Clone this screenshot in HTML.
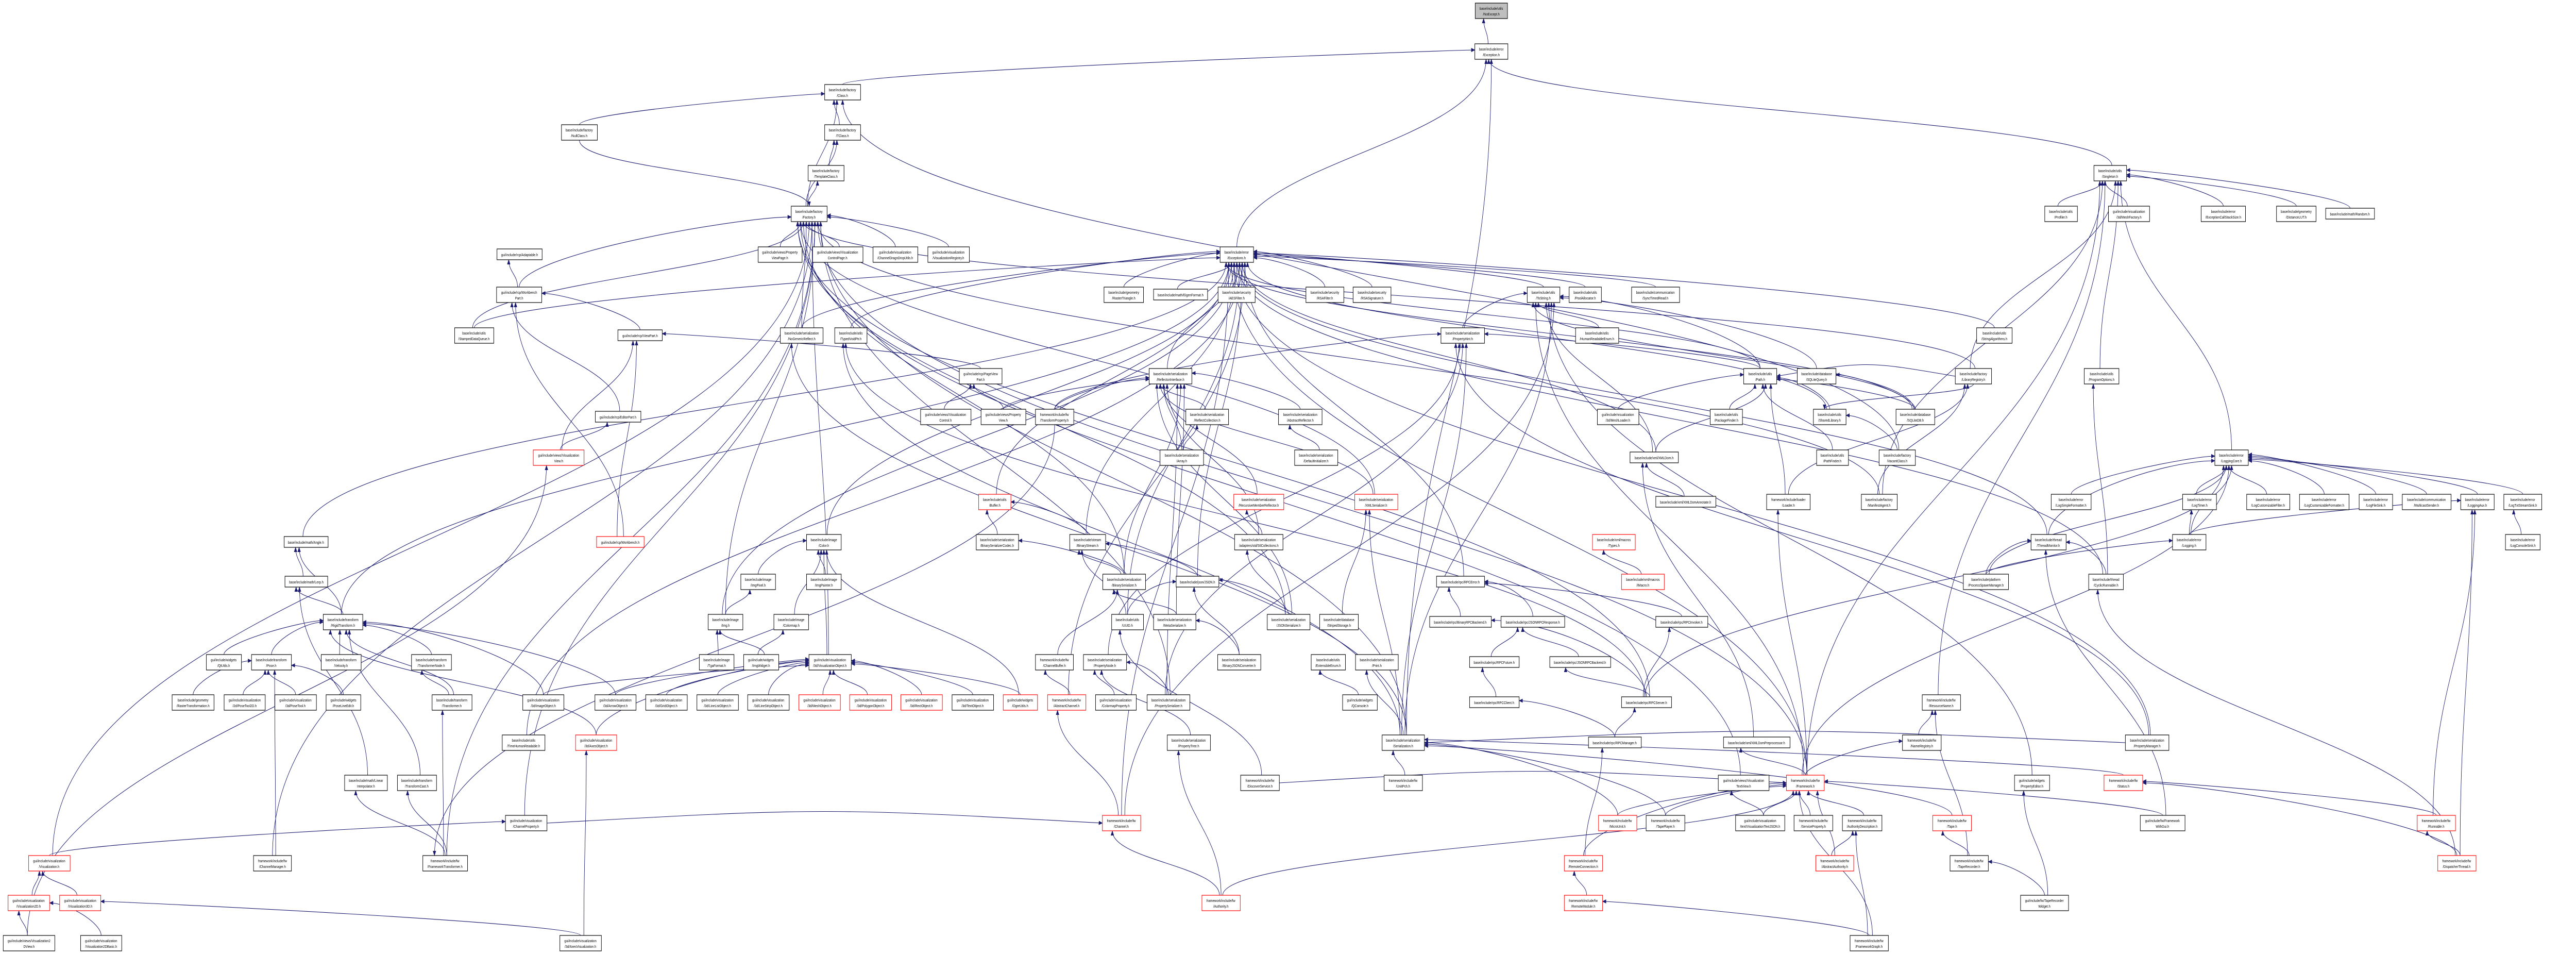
<!DOCTYPE html>
<html><head><meta charset="utf-8">
<style>
html,body{margin:0;padding:0;background:#fff;width:100%;height:100%;overflow:hidden;}
svg{display:block;width:100vw;height:100vh;}
rect{fill:#fff;stroke:#000;stroke-width:1.2;}
rect.r{stroke:#f00;}
rect.g{fill:#bfbfbf;}
text{font-family:"Liberation Sans",sans-serif;font-size:7.6px;text-anchor:middle;fill:#000;}
path.e{fill:none;stroke:#191970;stroke-width:1.1;}
</style></head>
<body>
<svg id="s" viewBox="0 0 6391 1851" preserveAspectRatio="none" xmlns="http://www.w3.org/2000/svg">
<defs><marker id="ah" markerWidth="10" markerHeight="8" refX="9" refY="4" orient="auto" markerUnits="userSpaceOnUse"><path d="M0,0 L10,4 L0,8 Z" fill="#191970"/></marker></defs>
<g id="edges"></g>
<g id="nodes">
<g id="nx"><rect class="g" x="3660" y="6" width="80" height="30"/><text x="3700" y="19">base/include/utils</text><text x="3700" y="30">/NoExcept.h</text></g>
<g id="ex"><rect x="3659" y="85" width="82" height="30"/><text x="3700" y="98">base/include/error</text><text x="3700" y="109">/Exception.h</text></g>
<g id="cls"><rect x="2046" y="164" width="89" height="30"/><text x="2090" y="177">base/include/factory</text><text x="2090" y="188">/Class.h</text></g>
<g id="tcls"><rect x="2046" y="242" width="89" height="30"/><text x="2090" y="255">base/include/factory</text><text x="2090" y="266">/TClass.h</text></g>
<g id="nullc"><rect x="1393" y="242" width="89" height="30"/><text x="1437" y="255">base/include/factory</text><text x="1437" y="266">/NullClass.h</text></g>
<g id="tmpl"><rect x="2005" y="321" width="89" height="30"/><text x="2049" y="334">base/include/factory</text><text x="2049" y="345">/TemplateClass.h</text></g>
<g id="sing"><rect x="5195" y="321" width="81" height="30"/><text x="5235" y="334">base/include/utils</text><text x="5235" y="345">/Singleton.h</text></g>
<g id="fac"><rect x="1963" y="400" width="89" height="30"/><text x="2007" y="413">base/include/factory</text><text x="2007" y="424">/Factory.h</text></g>
<g id="prof"><rect x="5073" y="400" width="81" height="30"/><text x="5113" y="413">base/include/utils</text><text x="5113" y="424">/Profiler.h</text></g>
<g id="mfac"><rect x="5231" y="400" width="102" height="30"/><text x="5282" y="413">gui/include/visualization</text><text x="5282" y="424">/3d/MeshFactory.h</text></g>
<g id="ecss"><rect x="5461" y="400" width="110" height="30"/><text x="5516" y="413">base/include/error</text><text x="5516" y="424">/ExceptionCallStackSize.h</text></g>
<g id="dlut"><rect x="5648" y="400" width="98" height="30"/><text x="5697" y="413">base/include/geometry</text><text x="5697" y="424">/DistanceLUT.h</text></g>
<g id="rnd"><rect x="5770" y="404" width="121" height="21"/><text x="5830" y="418">base/include/math/Random.h</text></g>
<g id="adapt"><rect x="1233" y="483" width="112" height="21"/><text x="1289" y="497">gui/include/rcp/Adaptable.h</text></g>
<g id="pvp"><rect x="1881" y="479" width="109" height="30"/><text x="1935" y="492">gui/include/views/Property</text><text x="1935" y="503">ViewPage.h</text></g>
<g id="vcp"><rect x="2016" y="479" width="125" height="30"/><text x="2078" y="492">gui/include/views/Visualization</text><text x="2078" y="503">ControlPage.h</text></g>
<g id="cdd"><rect x="2166" y="479" width="111" height="30"/><text x="2221" y="492">gui/include/visualization</text><text x="2221" y="503">/ChannelDragnDropUtils.h</text></g>
<g id="vreg"><rect x="2302" y="479" width="103" height="30"/><text x="2353" y="492">gui/include/visualization</text><text x="2353" y="503">/VisualizationRegistry.h</text></g>
<g id="exs"><rect x="3027" y="479" width="83" height="30"/><text x="3068" y="492">base/include/error</text><text x="3068" y="503">/Exceptions.h</text></g>
<g id="wbp"><rect x="1232" y="557" width="112" height="30"/><text x="1288" y="570">gui/include/rcp/Workbench</text><text x="1288" y="581">Part.h</text></g>
<g id="rtri"><rect x="2739" y="557" width="98" height="30"/><text x="2788" y="570">base/include/geometry</text><text x="2788" y="581">/RasterTriangle.h</text></g>
<g id="eig"><rect x="2862" y="561" width="134" height="21"/><text x="2929" y="575">base/include/math/EigenFormat.h</text></g>
<g id="aes"><rect x="3022" y="557" width="92" height="30"/><text x="3068" y="570">base/include/security</text><text x="3068" y="581">/AESFilter.h</text></g>
<g id="rsaf"><rect x="3240" y="557" width="94" height="30"/><text x="3287" y="570">base/include/security</text><text x="3287" y="581">/RSAFilter.h</text></g>
<g id="rsas"><rect x="3357" y="557" width="94" height="30"/><text x="3404" y="570">base/include/security</text><text x="3404" y="581">/RSASignature.h</text></g>
<g id="tostr"><rect x="3789" y="557" width="81" height="30"/><text x="3829" y="570">base/include/utils</text><text x="3829" y="581">/ToString.h</text></g>
<g id="pool"><rect x="3893" y="557" width="80" height="30"/><text x="3933" y="570">base/include/utils</text><text x="3933" y="581">/PoolAllocator.h</text></g>
<g id="sync"><rect x="4048" y="557" width="119" height="30"/><text x="4107" y="570">base/include/communication</text><text x="4107" y="581">/SyncTimedRead.h</text></g>
<g id="sdq"><rect x="1128" y="636" width="97" height="30"/><text x="1176" y="649">base/include/utils</text><text x="1176" y="660">/StampedDataQueue.h</text></g>
<g id="vpart"><rect x="1533" y="640" width="110" height="21"/><text x="1588" y="654">gui/include/rcp/ViewPart.h</text></g>
<g id="ngr"><rect x="1936" y="636" width="106" height="30"/><text x="1989" y="649">base/include/serialization</text><text x="1989" y="660">/NoGenericReflect.h</text></g>
<g id="tvp"><rect x="2071" y="636" width="80" height="30"/><text x="2111" y="649">base/include/utils</text><text x="2111" y="660">/TypedVoidPtr.h</text></g>
<g id="phint"><rect x="3575" y="636" width="108" height="30"/><text x="3629" y="649">base/include/serialization</text><text x="3629" y="660">/PropertyHint.h</text></g>
<g id="hre"><rect x="3909" y="636" width="107" height="30"/><text x="3962" y="649">base/include/utils</text><text x="3962" y="660">/HumanReadableEnum.h</text></g>
<g id="stralg"><rect x="4904" y="636" width="88" height="30"/><text x="4948" y="649">base/include/utils</text><text x="4948" y="660">/StringAlgorithms.h</text></g>
<g id="pvpart"><rect x="2380" y="715" width="106" height="30"/><text x="2433" y="728">gui/include/rcp/PageView</text><text x="2433" y="739">Part.h</text></g>
<g id="refi"><rect x="2851" y="715" width="106" height="30"/><text x="2904" y="728">base/include/serialization</text><text x="2904" y="739">/ReflectorInterface.h</text></g>
<g id="path"><rect x="4326" y="715" width="82" height="30"/><text x="4367" y="728">base/include/utils</text><text x="4367" y="739">/Path.h</text></g>
<g id="sqlq"><rect x="4459" y="715" width="96" height="30"/><text x="4507" y="728">base/include/database</text><text x="4507" y="739">/SQLiteQuery.h</text></g>
<g id="libreg"><rect x="4851" y="715" width="90" height="30"/><text x="4896" y="728">base/include/factory</text><text x="4896" y="739">/LibraryRegistry.h</text></g>
<g id="popt"><rect x="5171" y="715" width="86" height="30"/><text x="5214" y="728">base/include/utils</text><text x="5214" y="739">/ProgramOptions.h</text></g>
<g id="edpart"><rect x="1477" y="798" width="113" height="21"/><text x="1533" y="812">gui/include/rcp/EditorPart.h</text></g>
<g id="vctl"><rect x="2284" y="794" width="125" height="30"/><text x="2346" y="807">gui/include/views/Visualization</text><text x="2346" y="818">Control.h</text></g>
<g id="pview"><rect x="2434" y="794" width="111" height="30"/><text x="2489" y="807">gui/include/views/Property</text><text x="2489" y="818">View.h</text></g>
<g id="tprop"><rect x="2569" y="794" width="95" height="30"/><text x="2616" y="807">framework/include/fw</text><text x="2616" y="818">/TransformProperty.h</text></g>
<g id="rcol"><rect x="2942" y="794" width="106" height="30"/><text x="2995" y="807">base/include/serialization</text><text x="2995" y="818">/ReflectCollection.h</text></g>
<g id="absr"><rect x="3172" y="794" width="108" height="30"/><text x="3226" y="807">base/include/serialization</text><text x="3226" y="818">/AbstractReflector.h</text></g>
<g id="mload"><rect x="3963" y="794" width="103" height="30"/><text x="4014" y="807">gui/include/visualization</text><text x="4014" y="818">/3d/MeshLoader.h</text></g>
<g id="pfind"><rect x="4243" y="794" width="80" height="30"/><text x="4283" y="807">base/include/utils</text><text x="4283" y="818">/PackageFinder.h</text></g>
<g id="shlib"><rect x="4499" y="794" width="81" height="30"/><text x="4539" y="807">base/include/utils</text><text x="4539" y="818">/SharedLibrary.h</text></g>
<g id="sqldb"><rect x="4704" y="794" width="96" height="30"/><text x="4752" y="807">base/include/database</text><text x="4752" y="818">/SQLiteDB.h</text></g>
<g id="vview"><rect class="r" x="1323" y="873" width="126" height="30"/><text x="1386" y="886">gui/include/views/Visualization</text><text x="1386" y="897">View.h</text></g>
<g id="arr"><rect x="2878" y="873" width="108" height="30"/><text x="2932" y="886">base/include/serialization</text><text x="2932" y="897">/Array.h</text></g>
<g id="definit"><rect x="3212" y="873" width="107" height="30"/><text x="3265" y="886">base/include/serialization</text><text x="3265" y="897">/DefaultInitializer.h</text></g>
<g id="xmldom"><rect x="4044" y="877" width="120" height="21"/><text x="4104" y="891">base/include/xml/XMLDom.h</text></g>
<g id="pathf"><rect x="4507" y="873" width="79" height="30"/><text x="4546" y="886">base/include/utils</text><text x="4546" y="897">/PathFinder.h</text></g>
<g id="vac"><rect x="4662" y="873" width="90" height="30"/><text x="4707" y="886">base/include/factory</text><text x="4707" y="897">/VacantClass.h</text></g>
<g id="lcore"><rect x="5495" y="873" width="83" height="30"/><text x="5536" y="886">base/include/error</text><text x="5536" y="897">/LoggingCore.h</text></g>
<g id="buf"><rect class="r" x="2428" y="959" width="80" height="30"/><text x="2468" y="972">base/include/utils</text><text x="2468" y="983">/Buffer.h</text></g>
<g id="rmr"><rect class="r" x="3061" y="959" width="124" height="30"/><text x="3123" y="972">base/include/serialization</text><text x="3123" y="983">/RecursiveMemberReflector.h</text></g>
<g id="xmls"><rect class="r" x="3361" y="959" width="107" height="30"/><text x="3414" y="972">base/include/serialization</text><text x="3414" y="983">/XMLSerializer.h</text></g>
<g id="xda"><rect x="4108" y="963" width="149" height="21"/><text x="4182" y="977">base/include/xml/XMLDomAnnotate.h</text></g>
<g id="loader"><rect x="4383" y="959" width="108" height="30"/><text x="4437" y="972">framework/include/loader</text><text x="4437" y="983">/Loader.h</text></g>
<g id="mani"><rect x="4618" y="959" width="89" height="30"/><text x="4662" y="972">base/include/factory</text><text x="4662" y="983">/ManifestAgent.h</text></g>
<g id="lsf"><rect x="5089" y="959" width="99" height="30"/><text x="5138" y="972">base/include/error</text><text x="5138" y="983">/LogSimpleFormatter.h</text></g>
<g id="ltimer"><rect x="5415" y="959" width="84" height="30"/><text x="5457" y="972">base/include/error</text><text x="5457" y="983">/LogTimer.h</text></g>
<g id="lcfil"><rect x="5574" y="959" width="107" height="30"/><text x="5627" y="972">base/include/error</text><text x="5627" y="983">/LogCustomizableFilter.h</text></g>
<g id="lcfmt"><rect x="5705" y="959" width="123" height="30"/><text x="5766" y="972">base/include/error</text><text x="5766" y="983">/LogCustomizableFormatter.h</text></g>
<g id="lfs"><rect x="5853" y="959" width="83" height="30"/><text x="5894" y="972">base/include/error</text><text x="5894" y="983">/LogFileSink.h</text></g>
<g id="mcs"><rect x="5960" y="959" width="121" height="30"/><text x="6020" y="972">base/include/communication</text><text x="6020" y="983">/MulticastSender.h</text></g>
<g id="laux"><rect x="6105" y="959" width="83" height="30"/><text x="6146" y="972">base/include/error</text><text x="6146" y="983">/LoggingAux.h</text></g>
<g id="ltss"><rect x="6212" y="959" width="94" height="30"/><text x="6259" y="972">base/include/error</text><text x="6259" y="983">/LogTxtStreamSink.h</text></g>
<g id="angle"><rect x="705" y="1041" width="109" height="21"/><text x="759" y="1055">base/include/math/Angle.h</text></g>
<g id="wb"><rect class="r" x="1480" y="1041" width="118" height="21"/><text x="1539" y="1055">gui/include/rcp/Workbench.h</text></g>
<g id="color"><rect x="2001" y="1037" width="86" height="30"/><text x="2044" y="1050">base/include/image</text><text x="2044" y="1061">/Color.h</text></g>
<g id="bsc"><rect x="2422" y="1037" width="105" height="30"/><text x="2474" y="1050">base/include/serialization</text><text x="2474" y="1061">/BinarySerializerCodec.h</text></g>
<g id="bstr"><rect x="2654" y="1037" width="89" height="30"/><text x="2698" y="1050">base/include/stream</text><text x="2698" y="1061">/BinaryStream.h</text></g>
<g id="stl"><rect x="3063" y="1037" width="120" height="30"/><text x="3123" y="1050">base/include/serialization</text><text x="3123" y="1061">/adapters/std/StlCollections.h</text></g>
<g id="types"><rect class="r" x="3951" y="1037" width="106" height="30"/><text x="4004" y="1050">base/include/xml/macros</text><text x="4004" y="1061">/Types.h</text></g>
<g id="tmon"><rect x="5039" y="1037" width="87" height="30"/><text x="5082" y="1050">base/include/thread</text><text x="5082" y="1061">/ThreadMonitor.h</text></g>
<g id="logging"><rect x="5390" y="1037" width="83" height="30"/><text x="5431" y="1050">base/include/error</text><text x="5431" y="1061">/Logging.h</text></g>
<g id="lcs"><rect x="6216" y="1037" width="86" height="30"/><text x="6259" y="1050">base/include/error</text><text x="6259" y="1061">/LogConsoleSink.h</text></g>
<g id="lerp"><rect x="707" y="1118" width="106" height="21"/><text x="760" y="1132">base/include/math/Lerp.h</text></g>
<g id="imgpx"><rect x="1838" y="1114" width="86" height="30"/><text x="1881" y="1127">base/include/image</text><text x="1881" y="1138">/ImgPixel.h</text></g>
<g id="imgp"><rect x="2001" y="1114" width="86" height="30"/><text x="2044" y="1127">base/include/image</text><text x="2044" y="1138">/ImgPainter.h</text></g>
<g id="bser"><rect x="2736" y="1114" width="106" height="30"/><text x="2789" y="1127">base/include/serialization</text><text x="2789" y="1138">/BinarySerializer.h</text></g>
<g id="json"><rect x="2918" y="1118" width="106" height="21"/><text x="2971" y="1132">base/include/json/JSON.h</text></g>
<g id="rpcerr"><rect x="3564" y="1118" width="119" height="21"/><text x="3623" y="1132">base/include/rpc/RPCError.h</text></g>
<g id="imacro"><rect class="r" x="4023" y="1114" width="106" height="30"/><text x="4076" y="1127">base/include/xml/macros</text><text x="4076" y="1138">/IMacro.h</text></g>
<g id="psm"><rect x="4871" y="1114" width="112" height="30"/><text x="4927" y="1127">base/include/platform</text><text x="4927" y="1138">/ProcessSpawnManager.h</text></g>
<g id="cyc"><rect x="5182" y="1114" width="86" height="30"/><text x="5225" y="1127">base/include/thread</text><text x="5225" y="1138">/CyclicRunnable.h</text></g>
<g id="rigid"><rect x="802" y="1192" width="98" height="30"/><text x="851" y="1205">base/include/transform</text><text x="851" y="1216">/RigidTransform.h</text></g>
<g id="img"><rect x="1757" y="1192" width="86" height="30"/><text x="1800" y="1205">base/include/image</text><text x="1800" y="1216">/Img.h</text></g>
<g id="cmap"><rect x="1920" y="1192" width="86" height="30"/><text x="1963" y="1205">base/include/image</text><text x="1963" y="1216">/Colormap.h</text></g>
<g id="uuid"><rect x="2758" y="1192" width="79" height="30"/><text x="2797" y="1205">base/include/utils</text><text x="2797" y="1216">/UUID.h</text></g>
<g id="meta"><rect x="2862" y="1192" width="105" height="30"/><text x="2914" y="1205">base/include/serialization</text><text x="2914" y="1216">/MetaSerializer.h</text></g>
<g id="jsons"><rect x="3144" y="1192" width="106" height="30"/><text x="3197" y="1205">base/include/serialization</text><text x="3197" y="1216">/JSONSerializer.h</text></g>
<g id="strip"><rect x="3274" y="1192" width="96" height="30"/><text x="3322" y="1205">base/include/database</text><text x="3322" y="1216">/StripedStorage.h</text></g>
<g id="brpc"><rect x="3547" y="1196" width="153" height="21"/><text x="3623" y="1210">base/include/rpc/BinaryRPCBackend.h</text></g>
<g id="jrpcr"><rect x="3724" y="1196" width="158" height="21"/><text x="3803" y="1210">base/include/rpc/JSONRPCResponse.h</text></g>
<g id="rpcinv"><rect x="4108" y="1196" width="129" height="21"/><text x="4172" y="1210">base/include/rpc/RPCInvoker.h</text></g>
<g id="qtu"><rect x="512" y="1270" width="87" height="30"/><text x="555" y="1283">gui/include/widgets</text><text x="555" y="1294">/QtUtils.h</text></g>
<g id="pose"><rect x="624" y="1270" width="99" height="30"/><text x="673" y="1283">base/include/transform</text><text x="673" y="1294">/Pose.h</text></g>
<g id="vel"><rect x="797" y="1270" width="99" height="30"/><text x="846" y="1283">base/include/transform</text><text x="846" y="1294">/Velocity.h</text></g>
<g id="tnode"><rect x="1021" y="1270" width="99" height="30"/><text x="1070" y="1283">base/include/transform</text><text x="1070" y="1294">/TransformerNode.h</text></g>
<g id="tga"><rect x="1735" y="1270" width="86" height="30"/><text x="1778" y="1283">base/include/image</text><text x="1778" y="1294">/TgaFormat.h</text></g>
<g id="imgw"><rect x="1845" y="1270" width="87" height="30"/><text x="1888" y="1283">gui/include/widgets</text><text x="1888" y="1294">/ImgWidget.h</text></g>
<g id="vobj"><rect x="2007" y="1270" width="105" height="30"/><text x="2059" y="1283">gui/include/visualization</text><text x="2059" y="1294">/3d/VisualizationObject.h</text></g>
<g id="chbuf"><rect x="2569" y="1270" width="94" height="30"/><text x="2616" y="1283">framework/include/fw</text><text x="2616" y="1294">/ChannelBuffer.h</text></g>
<g id="pnode"><rect x="2688" y="1270" width="107" height="30"/><text x="2741" y="1283">base/include/serialization</text><text x="2741" y="1294">/PropertyNode.h</text></g>
<g id="bjc"><rect x="3021" y="1270" width="107" height="30"/><text x="3074" y="1283">base/include/serialization</text><text x="3074" y="1294">/BinaryJSONConverter.h</text></g>
<g id="eenum"><rect x="3253" y="1270" width="85" height="30"/><text x="3295" y="1283">base/include/utils</text><text x="3295" y="1294">/ExtensibleEnum.h</text></g>
<g id="print"><rect x="3363" y="1270" width="106" height="30"/><text x="3416" y="1283">base/include/serialization</text><text x="3416" y="1294">/Print.h</text></g>
<g id="rpcfut"><rect x="3646" y="1274" width="123" height="21"/><text x="3707" y="1288">base/include/rpc/RPCFuture.h</text></g>
<g id="jrpcb"><rect x="3845" y="1274" width="151" height="21"/><text x="3920" y="1288">base/include/rpc/JSONRPCBackend.h</text></g>
<g id="rtrans"><rect x="427" y="1348" width="104" height="30"/><text x="479" y="1361">base/include/geometry</text><text x="479" y="1372">/RasterTransformation.h</text></g>
<g id="pt2d"><rect x="556" y="1348" width="102" height="30"/><text x="607" y="1361">gui/include/visualization</text><text x="607" y="1372">/2d/PoseTool2D.h</text></g>
<g id="pt3d"><rect x="682" y="1348" width="103" height="30"/><text x="733" y="1361">gui/include/visualization</text><text x="733" y="1372">/3d/PoseTool.h</text></g>
<g id="ple"><rect x="809" y="1348" width="86" height="30"/><text x="852" y="1361">gui/include/widgets</text><text x="852" y="1372">/PoseLineEdit.h</text></g>
<g id="trf"><rect x="1072" y="1348" width="99" height="30"/><text x="1121" y="1361">base/include/transform</text><text x="1121" y="1372">/Transformer.h</text></g>
<g id="imgo"><rect x="1297" y="1348" width="102" height="30"/><text x="1348" y="1361">gui/include/visualization</text><text x="1348" y="1372">/3d/ImageObject.h</text></g>
<g id="arro"><rect x="1476" y="1348" width="102" height="30"/><text x="1527" y="1361">gui/include/visualization</text><text x="1527" y="1372">/3d/ArrowObject.h</text></g>
<g id="grid"><rect x="1602" y="1348" width="103" height="30"/><text x="1653" y="1361">gui/include/visualization</text><text x="1653" y="1372">/3d/GridObject.h</text></g>
<g id="llist"><rect x="1729" y="1348" width="103" height="30"/><text x="1780" y="1361">gui/include/visualization</text><text x="1780" y="1372">/3d/LineListObject.h</text></g>
<g id="lstrip"><rect x="1855" y="1348" width="103" height="30"/><text x="1906" y="1361">gui/include/visualization</text><text x="1906" y="1372">/3d/LineStripObject.h</text></g>
<g id="mesho"><rect class="r" x="1982" y="1348" width="103" height="30"/><text x="2033" y="1361">gui/include/visualization</text><text x="2033" y="1372">/3d/MeshObject.h</text></g>
<g id="poly"><rect class="r" x="2108" y="1348" width="104" height="30"/><text x="2160" y="1361">gui/include/visualization</text><text x="2160" y="1372">/3d/PolygonObject.h</text></g>
<g id="rect"><rect class="r" x="2235" y="1348" width="103" height="30"/><text x="2286" y="1361">gui/include/visualization</text><text x="2286" y="1372">/3d/RectObject.h</text></g>
<g id="texto"><rect x="2362" y="1348" width="103" height="30"/><text x="2413" y="1361">gui/include/visualization</text><text x="2413" y="1372">/3d/TextObject.h</text></g>
<g id="ogre"><rect class="r" x="2489" y="1348" width="85" height="30"/><text x="2531" y="1361">gui/include/widgets</text><text x="2531" y="1372">/OgreUtils.h</text></g>
<g id="achan"><rect class="r" x="2599" y="1348" width="95" height="30"/><text x="2646" y="1361">framework/include/fw</text><text x="2646" y="1372">/AbstractChannel.h</text></g>
<g id="cmprop"><rect x="2718" y="1348" width="101" height="30"/><text x="2768" y="1361">gui/include/visualization</text><text x="2768" y="1372">/ColormapProperty.h</text></g>
<g id="pser"><rect x="2846" y="1348" width="106" height="30"/><text x="2899" y="1361">base/include/serialization</text><text x="2899" y="1372">/PropertySerializer.h</text></g>
<g id="qcon"><rect x="3331" y="1348" width="86" height="30"/><text x="3374" y="1361">gui/include/widgets</text><text x="3374" y="1372">/QConsole.h</text></g>
<g id="rpccl"><rect x="3646" y="1352" width="123" height="21"/><text x="3707" y="1366">base/include/rpc/RPCClient.h</text></g>
<g id="rpcsrv"><rect x="4023" y="1352" width="124" height="21"/><text x="4085" y="1366">base/include/rpc/RPCServer.h</text></g>
<g id="resn"><rect x="4769" y="1348" width="95" height="30"/><text x="4816" y="1361">framework/include/fw</text><text x="4816" y="1372">/ResourceName.h</text></g>
<g id="tshr"><rect x="1246" y="1426" width="106" height="30"/><text x="1299" y="1439">base/include/utils</text><text x="1299" y="1450">/TimeHumanReadable.h</text></g>
<g id="axeso"><rect class="r" x="1428" y="1426" width="102" height="30"/><text x="1479" y="1439">gui/include/visualization</text><text x="1479" y="1450">/3d/AxesObject.h</text></g>
<g id="ptree"><rect x="2896" y="1426" width="107" height="30"/><text x="2949" y="1439">base/include/serialization</text><text x="2949" y="1450">/PropertyTree.h</text></g>
<g id="ser"><rect x="3429" y="1426" width="105" height="30"/><text x="3481" y="1439">base/include/serialization</text><text x="3481" y="1450">/Serialization.h</text></g>
<g id="rpcman"><rect x="3941" y="1430" width="131" height="21"/><text x="4006" y="1444">base/include/rpc/RPCManager.h</text></g>
<g id="xdp"><rect x="4276" y="1430" width="165" height="21"/><text x="4358" y="1444">base/include/xml/XMLDomPreprocessor.h</text></g>
<g id="nreg"><rect x="4720" y="1426" width="96" height="30"/><text x="4768" y="1439">framework/include/fw</text><text x="4768" y="1450">/NameRegistry.h</text></g>
<g id="pman"><rect x="5273" y="1426" width="108" height="30"/><text x="5327" y="1439">base/include/serialization</text><text x="5327" y="1450">/PropertyManager.h</text></g>
<g id="linint"><rect x="855" y="1504" width="106" height="30"/><text x="908" y="1517">base/include/math/Linear</text><text x="908" y="1528">Interpolator.h</text></g>
<g id="tcast"><rect x="986" y="1504" width="97" height="30"/><text x="1034" y="1517">base/include/transform</text><text x="1034" y="1528">/TransformCast.h</text></g>
<g id="disc"><rect x="3078" y="1504" width="96" height="30"/><text x="3126" y="1517">framework/include/fw</text><text x="3126" y="1528">/DiscoverService.h</text></g>
<g id="upch"><rect x="3434" y="1504" width="95" height="30"/><text x="3481" y="1517">framework/include/fw</text><text x="3481" y="1528">/UnitPch.h</text></g>
<g id="vtv"><rect x="4263" y="1504" width="126" height="30"/><text x="4326" y="1517">gui/include/views/Visualization</text><text x="4326" y="1528">TextView.h</text></g>
<g id="fw"><rect class="r" x="4432" y="1504" width="94" height="30"/><text x="4479" y="1517">framework/include/fw</text><text x="4479" y="1528">/Framework.h</text></g>
<g id="pedit"><rect x="4998" y="1504" width="87" height="30"/><text x="5041" y="1517">gui/include/widgets</text><text x="5041" y="1528">/PropertyEditor.h</text></g>
<g id="status"><rect class="r" x="5220" y="1504" width="96" height="30"/><text x="5268" y="1517">framework/include/fw</text><text x="5268" y="1528">/Status.h</text></g>
<g id="chprop"><rect x="1254" y="1582" width="103" height="30"/><text x="1305" y="1595">gui/include/visualization</text><text x="1305" y="1606">/ChannelProperty.h</text></g>
<g id="chan"><rect class="r" x="2735" y="1582" width="95" height="30"/><text x="2782" y="1595">framework/include/fw</text><text x="2782" y="1606">/Channel.h</text></g>
<g id="micro"><rect class="r" x="3966" y="1582" width="95" height="30"/><text x="4013" y="1595">framework/include/fw</text><text x="4013" y="1606">/MicroUnit.h</text></g>
<g id="tplay"><rect x="4084" y="1582" width="96" height="30"/><text x="4132" y="1595">framework/include/fw</text><text x="4132" y="1606">/TapePlayer.h</text></g>
<g id="vtj"><rect x="4306" y="1582" width="122" height="30"/><text x="4367" y="1595">gui/include/visualization</text><text x="4367" y="1606">/text/VisualizationTextJSON.h</text></g>
<g id="sprop"><rect x="4451" y="1582" width="96" height="30"/><text x="4499" y="1595">framework/include/fw</text><text x="4499" y="1606">/ServiceProperty.h</text></g>
<g id="adesc"><rect x="4571" y="1582" width="98" height="30"/><text x="4620" y="1595">framework/include/fw</text><text x="4620" y="1606">/AuthorityDescription.h</text></g>
<g id="tape"><rect class="r" x="4795" y="1582" width="96" height="30"/><text x="4843" y="1595">framework/include/fw</text><text x="4843" y="1606">/Tape.h</text></g>
<g id="fwgui"><rect x="5310" y="1582" width="111" height="30"/><text x="5365" y="1595">gui/include/fw/Framework</text><text x="5365" y="1606">WithGui.h</text></g>
<g id="runn"><rect class="r" x="5997" y="1582" width="95" height="30"/><text x="6044" y="1595">framework/include/fw</text><text x="6044" y="1606">/Runnable.h</text></g>
<g id="vis"><rect class="r" x="71" y="1660" width="103" height="30"/><text x="122" y="1673">gui/include/visualization</text><text x="122" y="1684">/Visualization.h</text></g>
<g id="chman"><rect x="629" y="1660" width="94" height="30"/><text x="676" y="1673">framework/include/fw</text><text x="676" y="1684">/ChannelManager.h</text></g>
<g id="fwt"><rect x="1049" y="1660" width="111" height="30"/><text x="1104" y="1673">framework/include/fw</text><text x="1104" y="1684">/FrameworkTransformer.h</text></g>
<g id="rconn"><rect class="r" x="3881" y="1660" width="95" height="30"/><text x="3928" y="1673">framework/include/fw</text><text x="3928" y="1684">/RemoteConnection.h</text></g>
<g id="aauth"><rect class="r" x="4505" y="1660" width="94" height="30"/><text x="4552" y="1673">framework/include/fw</text><text x="4552" y="1684">/AbstractAuthority.h</text></g>
<g id="trec"><rect x="4838" y="1660" width="95" height="30"/><text x="4885" y="1673">framework/include/fw</text><text x="4885" y="1684">/TapeRecorder.h</text></g>
<g id="disp"><rect class="r" x="6048" y="1660" width="95" height="30"/><text x="6095" y="1673">framework/include/fw</text><text x="6095" y="1684">/DispatcherThread.h</text></g>
<g id="vis2d"><rect class="r" x="20" y="1737" width="103" height="30"/><text x="71" y="1750">gui/include/visualization</text><text x="71" y="1761">/Visualization2D.h</text></g>
<g id="vis3d"><rect class="r" x="148" y="1737" width="102" height="30"/><text x="199" y="1750">gui/include/visualization</text><text x="199" y="1761">/Visualization3D.h</text></g>
<g id="auth"><rect class="r" x="2982" y="1737" width="95" height="30"/><text x="3029" y="1750">framework/include/fw</text><text x="3029" y="1761">/Authority.h</text></g>
<g id="rmod"><rect class="r" x="3881" y="1737" width="95" height="30"/><text x="3928" y="1750">framework/include/fw</text><text x="3928" y="1761">/RemoteModule.h</text></g>
<g id="trw"><rect x="5013" y="1737" width="119" height="30"/><text x="5072" y="1750">gui/include/fw/TapeRecorder</text><text x="5072" y="1761">Widget.h</text></g>
<g id="v2dv"><rect x="8" y="1815" width="128" height="30"/><text x="72" y="1828">gui/include/views/Visualization2</text><text x="72" y="1839">DView.h</text></g>
<g id="v2db"><rect x="200" y="1815" width="102" height="30"/><text x="251" y="1828">gui/include/visualization</text><text x="251" y="1839">/Visualization2DBasic.h</text></g>
<g id="axv"><rect x="1389" y="1815" width="103" height="30"/><text x="1440" y="1828">gui/include/visualization</text><text x="1440" y="1839">/3d/AxesVisualization.h</text></g>
<g id="fwg"><rect x="4590" y="1815" width="95" height="30"/><text x="4637" y="1828">framework/include/fw</text><text x="4637" y="1839">/FrameworkGraph.h</text></g>
</g>
</svg>
<script>
(function(){
var E="ex>nx cls>ex exs>ex sing>ex ser>ex tcls>cls fac>cls nullc>cls vac>cls tmpl>tcls fac>tcls fac>tmpl "+
"pvp>fac vcp>fac cdd>fac vreg>fac vobj>fac img>fac fw>fac ser>fac jsons>fac xmls>fac bser>fac libreg>fac vis>fac wbp>fac chprop>fac mani>fac pser>fac rpcsrv>fac vtv>fac sdq>fac ngr>fac nullc>fac "+
"rtri>exs eig>exs aes>exs rsaf>exs rsas>exs tostr>exs pool>exs sync>exs path>exs buf>exs color>exs img>exs bstr>exs uuid>exs xmldom>exs rpcerr>exs shlib>exs sqldb>exs chan>exs fw>exs pman>exs cyc>exs tmon>exs json>exs achan>exs stralg>exs angle>exs rigid>exs sdq>exs tvp>exs ngr>exs refi>exs "+
"wbp>adapt vpart>wbp edpart>wbp wb>wbp pvpart>vpart vctl>pvpart pview>pvpart vview>edpart vview>vpart wb>vpart "+
"rcol>refi arr>refi tprop>refi pview>refi absr>refi pser>refi bser>refi meta>refi jsons>refi xmls>refi rmr>refi stl>refi arr>rcol ser>ngr ser>tvp rpcsrv>tvp "+
"phint>tostr hre>tostr path>tostr sqlq>tostr xmldom>tostr pedit>tostr ser>tostr chan>tostr sqldb>tostr fw>tostr "+
"path>phint pman>phint pnode>phint pser>phint ser>phint tprop>phint "+
"mload>path pfind>path shlib>path sqldb>path pathf>path xmldom>path libreg>path loader>path sqldb>sqlq vac>shlib libreg>shlib definit>absr "+
"prof>sing mfac>sing ecss>sing dlut>sing rnd>sing libreg>sing popt>sing lcore>sing fw>sing mani>sing resn>sing mani>libreg loader>libreg cyc>popt "+
"lsf>lcore ltimer>lcore lcfil>lcore lcfmt>lcore lfs>lcore mcs>lcore laux>lcore ltss>lcore tmon>lcore logging>lcore psm>lcore fw>lcore rpcsrv>lcore "+
"logging>ltimer logging>laux disp>laux runn>laux lcs>ltss psm>tmon cyc>tmon fwgui>tmon psm>logging disp>cyc runn>status disp>status disp>runn "+
"lerp>angle rigid>angle rigid>lerp linint>lerp qtu>rigid pose>rigid vel>rigid tnode>rigid trf>rigid tcast>rigid rtrans>pose pt2d>pose pt3d>pose ple>pose chman>pose trf>tnode fwt>trf fwt>linint fwt>tcast "+
"vis2d>vis vis3d>vis v2dv>vis2d v2db>vis2d axv>vis3d axv>axeso vis>chprop v2dv>vview "+
"imgpx>color imgp>color cmap>color vobj>color ogre>color img>imgpx tga>img imgw>img imgw>cmap "+
"grid>vobj llist>vobj lstrip>vobj mesho>vobj poly>vobj rect>vobj texto>vobj ogre>vobj imgo>vobj arro>vobj axeso>vobj "+
"bsc>buf bstr>buf bser>bsc bser>bstr uuid>bstr json>bstr meta>bser chbuf>bser jsons>json uuid>json bjc>json bjc>meta stl>rmr jsons>stl "+
"cmprop>pnode pser>pnode ptree>pnode achan>chbuf chan>achan auth>chan auth>ptree disc>uuid "+
"strip>xmls ser>xmls imacro>types brpc>rpcerr jrpcr>rpcerr rpcinv>rpcerr rpcfut>jrpcr jrpcb>jrpcr rpcsrv>brpc rpccl>rpcfut rpcsrv>jrpcb rpcsrv>rpcinv rpcman>rpccl rpcman>rpcsrv rconn>rpcman rmod>rconn fwg>rmod qcon>eenum ser>print upch>ser "+
"vtj>fw sprop>fw tplay>fw micro>fw adesc>fw vtj>vtv aauth>adesc fwg>adesc fw>xdp fw>loader fw>nreg nreg>resn trec>resn trec>tape trw>trec trw>pedit xdp>xmldom xda>xmldom "+
"chman>fac fwt>fac tshr>exs imgo>rigid arro>rigid axeso>rigid chprop>chan tprop>fwt fwgui>fw rconn>fw aauth>fw auth>fw micro>ser tplay>ser tape>ser status>ser disc>fw fwg>fw pman>ser";
var G=document.getElementById('edges'),NS="http://www.w3.org/2000/svg";
function B(id){var g=document.getElementById(id);if(!g)return null;var r=g.querySelector('rect');var x=+r.getAttribute('x'),y=+r.getAttribute('y'),w=+r.getAttribute('width'),h=+r.getAttribute('height');return {x:x,y:y,w:w,h:h,cx:x+w/2,cy:y+h/2};}
var cnt={};
E.split(/\s+/).forEach(function(p,i){
 if(!p)return;var a=p.split('>');var c=B(a[0]),q=B(a[1]);if(!c||!q)return;
 cnt[a[1]]=(cnt[a[1]]||0)+1;var k=cnt[a[1]];
 var off=((k*37)%9-4)/10*q.w*0.8;
 var sx,sy,ex,ey,d;
 var dx=c.cx-q.cx;
 if(c.y>q.y+q.h+5){
   var dy=c.y-(q.y+q.h);
   if(Math.abs(dx)>dy*3 && dy<200){
     ex=dx<0?q.x:q.x+q.w; ey=q.cy+((k%5)-2)*3;
     sx=c.cx; sy=c.y;
     var cx2=ex+(dx<0?-dy:dy); cx2=Math.max(5,Math.min(6385,cx2));
     d="M"+sx+","+sy+" C"+sx+","+(sy-dy*0.5)+" "+cx2+","+ey+" "+ex+","+ey;
   } else {
     sx=c.cx+((i%5)-2)*4; sy=c.y; ex=q.cx+off; ey=q.y+q.h;
     d="M"+sx+","+sy+" C"+sx+","+(sy-dy*0.45)+" "+ex+","+(ey+dy*0.45)+" "+ex+","+ey;
   }
 } else if(q.y>c.y+c.h+5){
   var dy2=q.y-(c.y+c.h);
   sx=c.cx; sy=c.y+c.h; ex=q.cx+off; ey=q.y;
   d="M"+sx+","+sy+" C"+sx+","+(sy+dy2*0.45)+" "+ex+","+(ey-dy2*0.45)+" "+ex+","+ey;
 } else {
   sy=c.cy; ey=q.cy;
   if(dx>0){sx=c.x;ex=q.x+q.w;}else{sx=c.x+c.w;ex=q.x;}
   d="M"+sx+","+sy+" C"+((sx+ex)/2)+","+(sy-30)+" "+((sx+ex)/2)+","+(ey-30)+" "+ex+","+ey;
 }
 var pth=document.createElementNS(NS,'path');pth.setAttribute('d',d);pth.setAttribute('class','e');pth.setAttribute('marker-end','url(#ah)');G.appendChild(pth);
});
})();
</script>
</body></html>
